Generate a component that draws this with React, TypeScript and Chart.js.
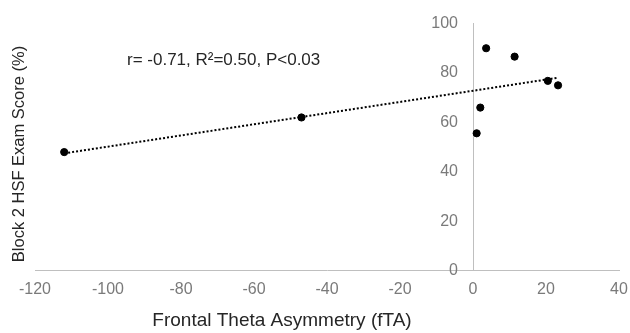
import React, { useEffect, useRef } from "react";
import { Chart, registerables } from "chart.js";

Chart.register(...registerables);

const fta = [-112, -47, 1, 2, 3.6, 11.4, 20.5, 23.3];
const examScore = [48, 62, 55.6, 66, 90, 86.6, 76.8, 75];
const trendX = [-112, 23];
const trendY = [47.5, 78.0];
const xTicks = [-120, -100, -80, -60, -40, -20, 0, 20, 40];
const yTicks = [0, 20, 40, 60, 80, 100];
const xTitle = "Frontal Theta Asymmetry (fTA)";
const yTitle = "Block 2 HSF Exam Score (%)";
const annotation = "r= -0.71, R\u00B2=0.50, P<0.03";

const FONT = "'Liberation Sans', Arial, sans-serif";
const Y_LABEL_GAP = 15;

const labelShiftPlugin = {
  id: "labelShift",
  beforeDraw(chart: any) {
    const s = chart.scales.y;
    const items = s.getLabelItems(chart.chartArea);
    items.forEach((it: any) => {
      if (!it._shifted) {
        it.options.translation[0] -= Y_LABEL_GAP;
        it._shifted = true;
      }
    });
  },
};

const textPlugin = {
  id: "textPlugin",
  afterDraw(chart: any) {
    const ctx = chart.ctx;
    ctx.save();
    ctx.fillStyle = "#262626";
    ctx.font = `19px ${FONT}`;
    ctx.textAlign = "center";
    ctx.textBaseline = "middle";
    ctx.fillText(xTitle, 282, 321);
    ctx.font = `16.5px ${FONT}`;
    ctx.translate(19, 154);
    ctx.rotate(-Math.PI / 2);
    ctx.fillText(yTitle, 0, 0);
    ctx.restore();
    ctx.save();
    ctx.fillStyle = "#262626";
    ctx.font = `17px ${FONT}`;
    ctx.textAlign = "left";
    ctx.textBaseline = "alphabetic";
    ctx.fillText(annotation, 127, 65);
    ctx.restore();
  },
};

export default function App() {
  const ref = useRef<HTMLCanvasElement | null>(null);
  useEffect(() => {
    document.body.style.margin = "0";
    const points = fta.map((x, i) => ({ x, y: examScore[i] }));
    const trend = trendX.map((x, i) => ({ x, y: trendY[i] }));
    const chart = new Chart(ref.current as HTMLCanvasElement, {
      type: "scatter",
      data: {
        datasets: [
          {
            type: "line",
            data: trend,
            borderColor: "#000000",
            borderWidth: 2,
            borderDash: [2, 2],
            pointRadius: 0,
            fill: false,
          } as any,
          {
            data: points,
            backgroundColor: "#000000",
            borderColor: "#000000",
            pointRadius: 3.6,
            pointHoverRadius: 3.6,
          },
        ],
      },
      options: {
        animation: false,
        responsive: true,
        maintainAspectRatio: false,
        layout: { padding: { left: 35, right: 11, top: 23.5, bottom: 25 } },
        plugins: { legend: { display: false }, tooltip: { enabled: false } },
        scales: {
          x: {
            type: "linear",
            position: "bottom",
            min: xTicks[0],
            max: xTicks[xTicks.length - 1],
            afterBuildTicks: (s: any) => {
              s.ticks = xTicks.map((v) => ({ value: v }));
            },
            afterFit: (s: any) => {
              s.paddingLeft = 0;
              s.paddingRight = 0;
            },
            grid: { display: false, drawTicks: false, tickLength: 0 },
            border: { display: true, color: "#bfbfbf", width: 1 },
            ticks: {
              color: "#7a7a7a",
              font: { family: FONT, size: 16 },
              padding: 9,
              maxRotation: 0,
            },
          },
          y: {
            type: "linear",
            position: { x: 0 } as any,
            min: yTicks[0],
            max: yTicks[yTicks.length - 1],
            afterBuildTicks: (s: any) => {
              s.ticks = yTicks.map((v) => ({ value: v }));
            },
            afterFit: (s: any) => {
              s.width = 0;
              s.paddingTop = 0;
              s.paddingBottom = 0;
            },
            grid: { display: false, drawTicks: false, tickLength: 0 },
            border: { display: true, color: "#bfbfbf", width: 1 },
            ticks: {
              color: "#7a7a7a",
              font: { family: FONT, size: 16 },
              padding: 0,
            },
          },
        },
      },
      plugins: [labelShiftPlugin, textPlugin],
    });
    return () => chart.destroy();
  }, []);
  return (
    <div style={{ position: "relative", width: 630, height: 333 }}>
      <canvas ref={ref} />
    </div>
  );
}
